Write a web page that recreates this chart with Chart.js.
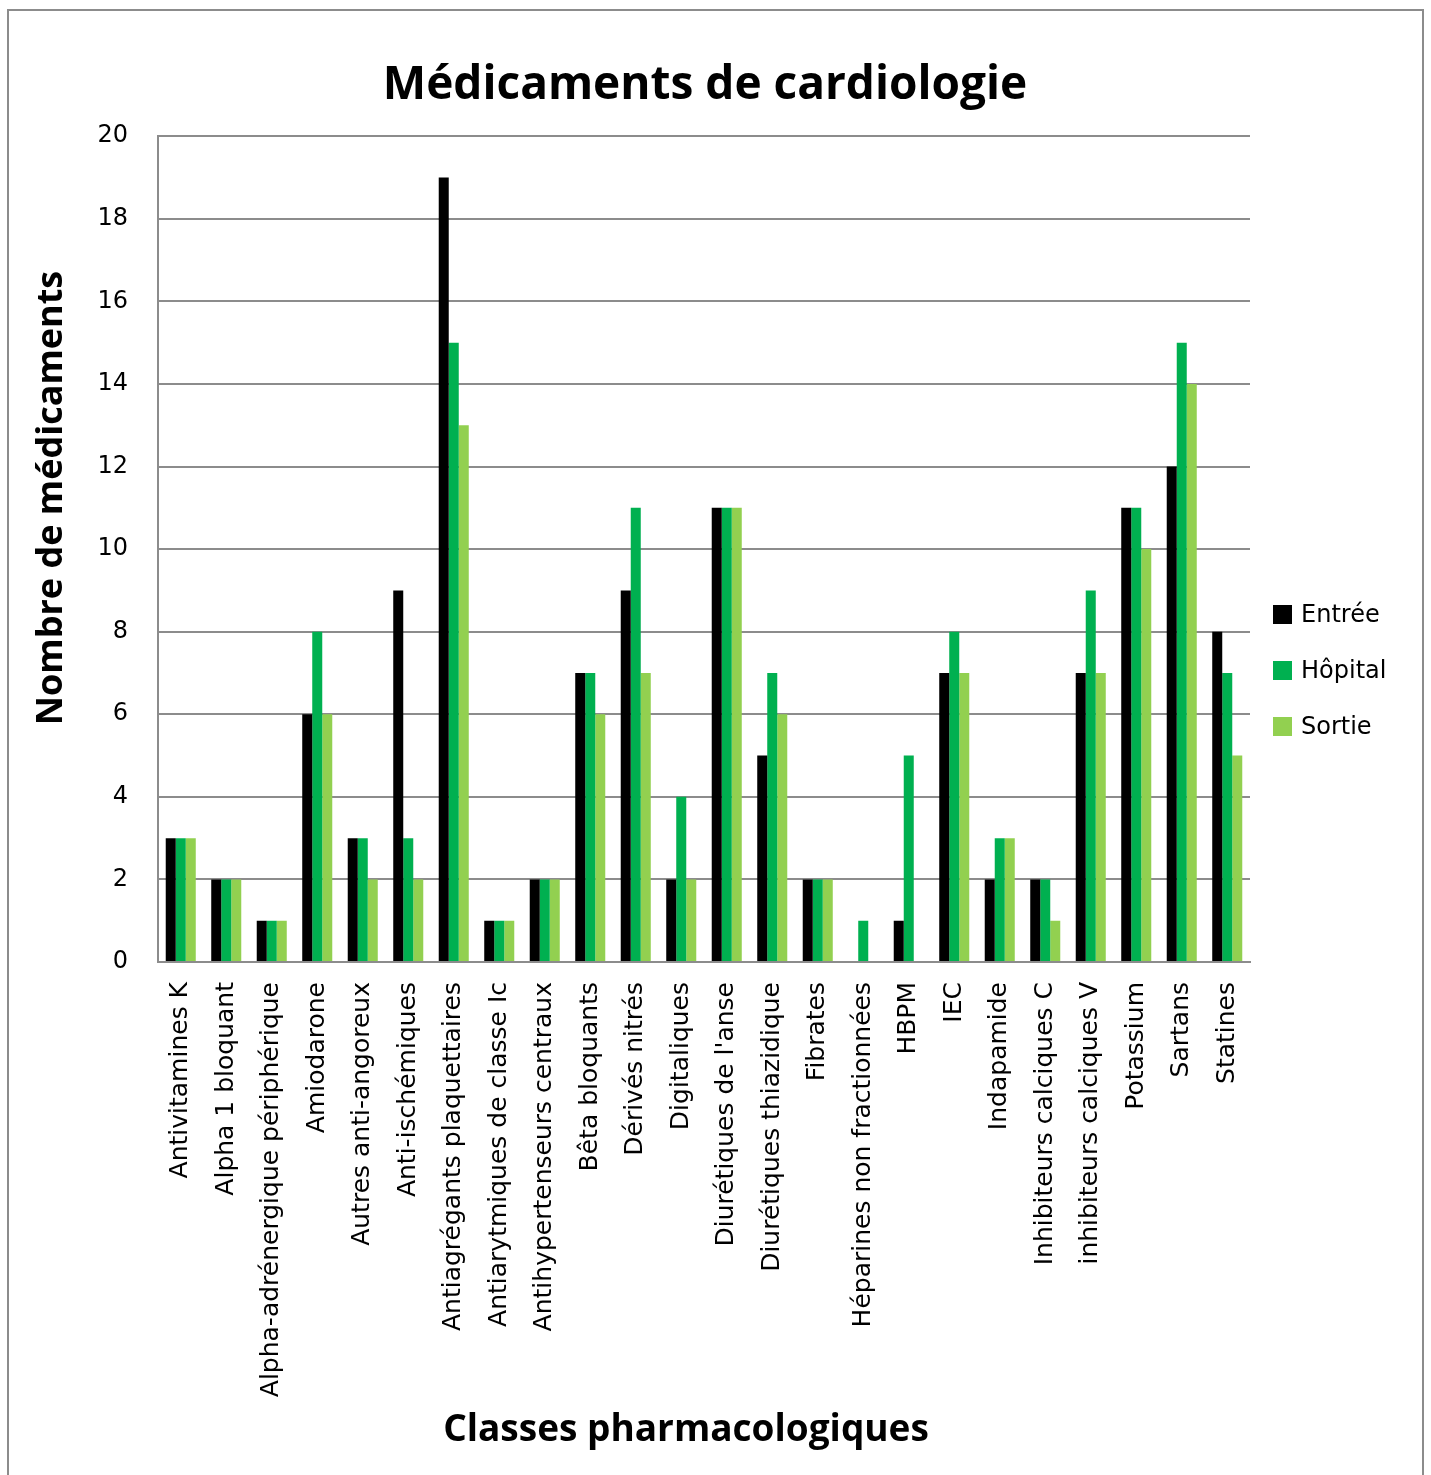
<!DOCTYPE html>
<html>
<head>
<meta charset="utf-8">
<script src="https://cdn.jsdelivr.net/npm/chart.js@4"></script>
<style>
  html, body { margin: 0; padding: 0; background: #fff; }
  #wrap { position: relative; width: 1431px; height: 1475px; }
  #frame {
    position: absolute; left: 7px; top: 9px; width: 1413px; height: 1475px;
    border: 2px solid #8c8c8c; border-bottom: none; pointer-events: none;
  }
  #legend {
    position: absolute; left: 1273px; top: 586px;
    font-family: "DejaVu Sans", sans-serif; font-size: 24px; color: #000;
  }
  .item { display: flex; align-items: center; height: 56px; }
  .box { width: 19px; height: 19px; margin-right: 9px; }
</style>
</head>
<body>
<div id="wrap">
  <canvas id="chart" width="1431" height="1475"></canvas>
  <div id="frame"></div>
  <div id="legend"></div>
</div>
<script>
// ===== DATA =====
const categories = [
  "Antivitamines K", "Alpha 1 bloquant", "Alpha-adrénergique périphérique", "Amiodarone",
  "Autres anti-angoreux", "Anti-ischémiques", "Antiagrégants plaquettaires",
  "Antiarytmiques de classe Ic", "Antihypertenseurs centraux", "Bêta bloquants",
  "Dérivés nitrés", "Digitaliques", "Diurétiques de l'anse", "Diurétiques thiazidique",
  "Fibrates", "Héparines non fractionnées", "HBPM", "IEC", "Indapamide",
  "Inhibiteurs calciques C", "inhibiteurs calciques V", "Potassium", "Sartans", "Statines"
];
const entree  = [3, 2, 1, 6, 3, 9, 19, 1, 2, 7, 9, 2, 11, 5, 2, 0, 1, 7, 2, 2, 7, 11, 12, 8];
const hopital = [3, 2, 1, 8, 3, 3, 15, 1, 2, 7, 11, 4, 11, 7, 2, 1, 5, 8, 3, 2, 9, 11, 15, 7];
const sortie  = [3, 2, 1, 6, 2, 2, 13, 1, 2, 6, 7, 2, 11, 6, 2, 0, 0, 7, 3, 1, 7, 10, 14, 5];

const seriesNames = ["Entrée", "Hôpital", "Sortie"];
const seriesColors = ["#000000", "#00b050", "#92d050"];

const xTitle = "Classes pharmacologiques";
const yTitle = "Nombre de médicaments";

// ===== CHART =====
const TITLE_FONT = "'Open Sans', sans-serif";
const TICK_FONT = "'DejaVu Sans', sans-serif";

const datasets = [entree, hopital, sortie].map((data, i) => ({
  label: seriesNames[i],
  data,
  backgroundColor: seriesColors[i],
  borderWidth: 0,
  categoryPercentage: 0.66,
  barPercentage: 1.0
}));

// axis titles drawn by hand: the original ones are not centred on the plot
const axisTitles = {
  id: "axisTitles",
  afterDraw(chart) {
    const ctx = chart.ctx;
    ctx.save();
    ctx.fillStyle = "#000";
    ctx.textAlign = "center";
    ctx.textBaseline = "middle";
    ctx.font = "bold 37px " + TITLE_FONT;
    ctx.fillText(xTitle, 686, 1430);
    ctx.translate(52, 498);
    ctx.rotate(-Math.PI / 2);
    ctx.font = "bold 36px " + TITLE_FONT;
    ctx.fillText(yTitle, 0, 0);
    ctx.restore();
  }
};

new Chart(document.getElementById("chart"), {
  type: "bar",
  data: { labels: categories, datasets },
  plugins: [axisTitles],
  options: {
    responsive: false,
    animation: false,
    layout: { padding: { left: 0, right: 21, top: 0, bottom: 0 } },
    plugins: {
      legend: { display: false },
      tooltip: { enabled: false },
      title: {
        display: true,
        text: "Médicaments de cardiologie",
        color: "#000",
        font: { family: TITLE_FONT, size: 46, weight: "bold" },
        padding: { top: 58, bottom: 23 }
      }
    },
    scales: {
      x: {
        grid: { display: false, drawTicks: false },
        border: { color: "#8c8c8c", width: 2 },
        ticks: {
          color: "#000",
          font: { family: TICK_FONT, size: 25 },
          maxRotation: 90, minRotation: 90,
          autoSkip: false,
          padding: 20
        },
        afterFit: (s) => { s.height = 1475 - 962; }
      },
      y: {
        min: 0, max: 20,
        grid: { color: "#8c8c8c", lineWidth: 2, drawTicks: false },
        border: { color: "#8c8c8c", width: 2 },
        ticks: {
          stepSize: 2,
          color: "#000",
          font: { family: TICK_FONT, size: 24 },
          padding: 30
        },
        afterFit: (s) => { s.width = 158; }
      },
      // empty right-hand scale: keeps room for the legend
      y2: {
        position: "right",
        grid: { display: false },
        border: { display: false },
        ticks: { display: false },
        afterFit: (s) => { s.width = 160; }
      }
    }
  }
});

// ===== LEGEND =====
const legend = document.getElementById("legend");
seriesNames.forEach((name, i) => {
  const item = document.createElement("div");
  item.className = "item";
  item.innerHTML = '<span class="box" style="background:' + seriesColors[i] + '"></span>' + name;
  legend.appendChild(item);
});
</script>
</body>
</html>
